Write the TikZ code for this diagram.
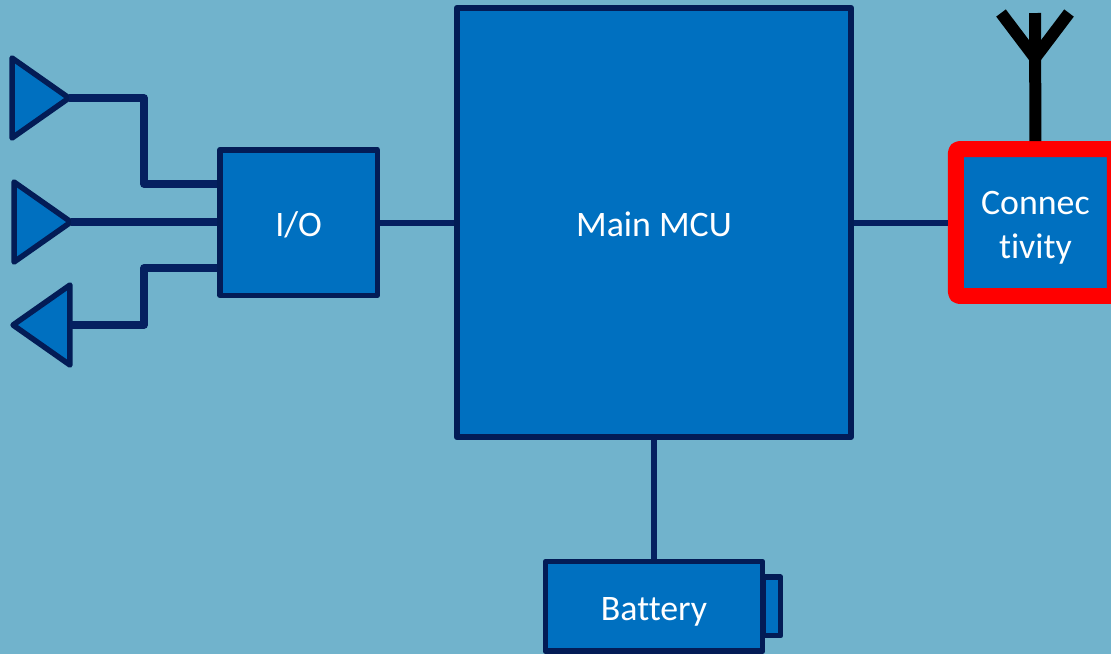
\documentclass[tikz,border=0pt]{standalone}
\usepackage{fontspec}
\setmainfont[Ligatures=NoCommon]{Carlito}
\usetikzlibrary{shapes.geometric, positioning, backgrounds}
\definecolor{panel}{HTML}{71B3CC}
\definecolor{boxfill}{HTML}{0070C0}
\definecolor{boxline}{HTML}{031C56}
\definecolor{wireline}{HTML}{052060}

\begin{document}
\begin{tikzpicture}[
    x=0.02cm, y=-0.02cm,
    box/.style={rectangle, draw=boxline, fill=boxfill, line width=0.11cm, line join=round, align=center, text=white, text height=16.4pt, text depth=0pt, font=\fontsize{20.4}{25}\selectfont},
    mcu/.style={box, minimum width=7.89cm, minimum height=8.59cm},
    io/.style={box, minimum width=3.15cm, minimum height=2.91cm},
    radio/.style={box, draw=red, line width=0.32cm, rounded corners=2pt, text height=41.3pt, text depth=0pt, minimum width=3.18cm, minimum height=2.94cm},
    battery/.style={box, minimum width=4.35cm, minimum height=1.79cm},
    battcap/.style={box, minimum width=0.35cm, minimum height=1.17cm},
    port/.style={isosceles triangle, isosceles triangle apex angle=72, isosceles triangle stretches, draw=boxline, fill=boxfill, line width=0.11cm, line join=round, inner sep=0pt, outer sep=0pt, minimum width=1.6cm, minimum height=1.14cm},
    wire/.style={draw=wireline, line width=0.15cm, line join=round},
    link/.style={draw=wireline, line width=0.12cm},
    antenna/.style={draw=black, line width=0.24cm},
]
    % Page
    \useasboundingbox (0,0) rectangle (1111,654);

    % Main blocks
    \node[mcu] (main) at (654,222.5) {Main MCU};
    \node[io, left=1.48cm of main] (inout) {I/O};
    \node[radio, right=1.88cm of main] (conn) {Connec\\tivity};
    \node[battery, below=2.38cm of main] (batt) {Battery};

    % Panel and battery cap
    \begin{scope}[on background layer]
        \fill[panel] (0,0) rectangle (1111,654);
        \node[battcap, right=-0.1cm of batt] (cap) {};
    \end{scope}

    % Ports
    \node[port, anchor=apex] (portA) at (69,98) {};
    \node[port, anchor=apex] (portB) at (71,222) {};
    \node[port, shape border rotate=180, anchor=apex] (portC) at (13,325) {};

    % Wire corners
    \coordinate (jointA) at (144,184);
    \coordinate (jointC) at (144,268);

    % Connections
    \draw[wire] (portA.apex) -| (jointA) -- (jointA -| inout.west);
    \draw[wire] (portB.apex) -- (portB.apex -| inout.west);
    \draw[wire] (inout.west |- jointC) -- (jointC) |- (portC.east);
    \draw[link] (inout) -- (main);
    \draw[link] (main) -- (conn);
    \draw[link] (main) -- (batt);

    % Antenna
    \coordinate (aerialTop) at (1035,13);
    \coordinate (aerialFork) at (1035,58);
    \coordinate (aerialLeft) at (1001,13);
    \coordinate (aerialRight) at (1069,13);
    \draw[antenna] (conn.north) -- (aerialTop);
    \draw[antenna] (aerialLeft) -- (aerialFork) -- (aerialRight);
\end{tikzpicture}
\end{document}
